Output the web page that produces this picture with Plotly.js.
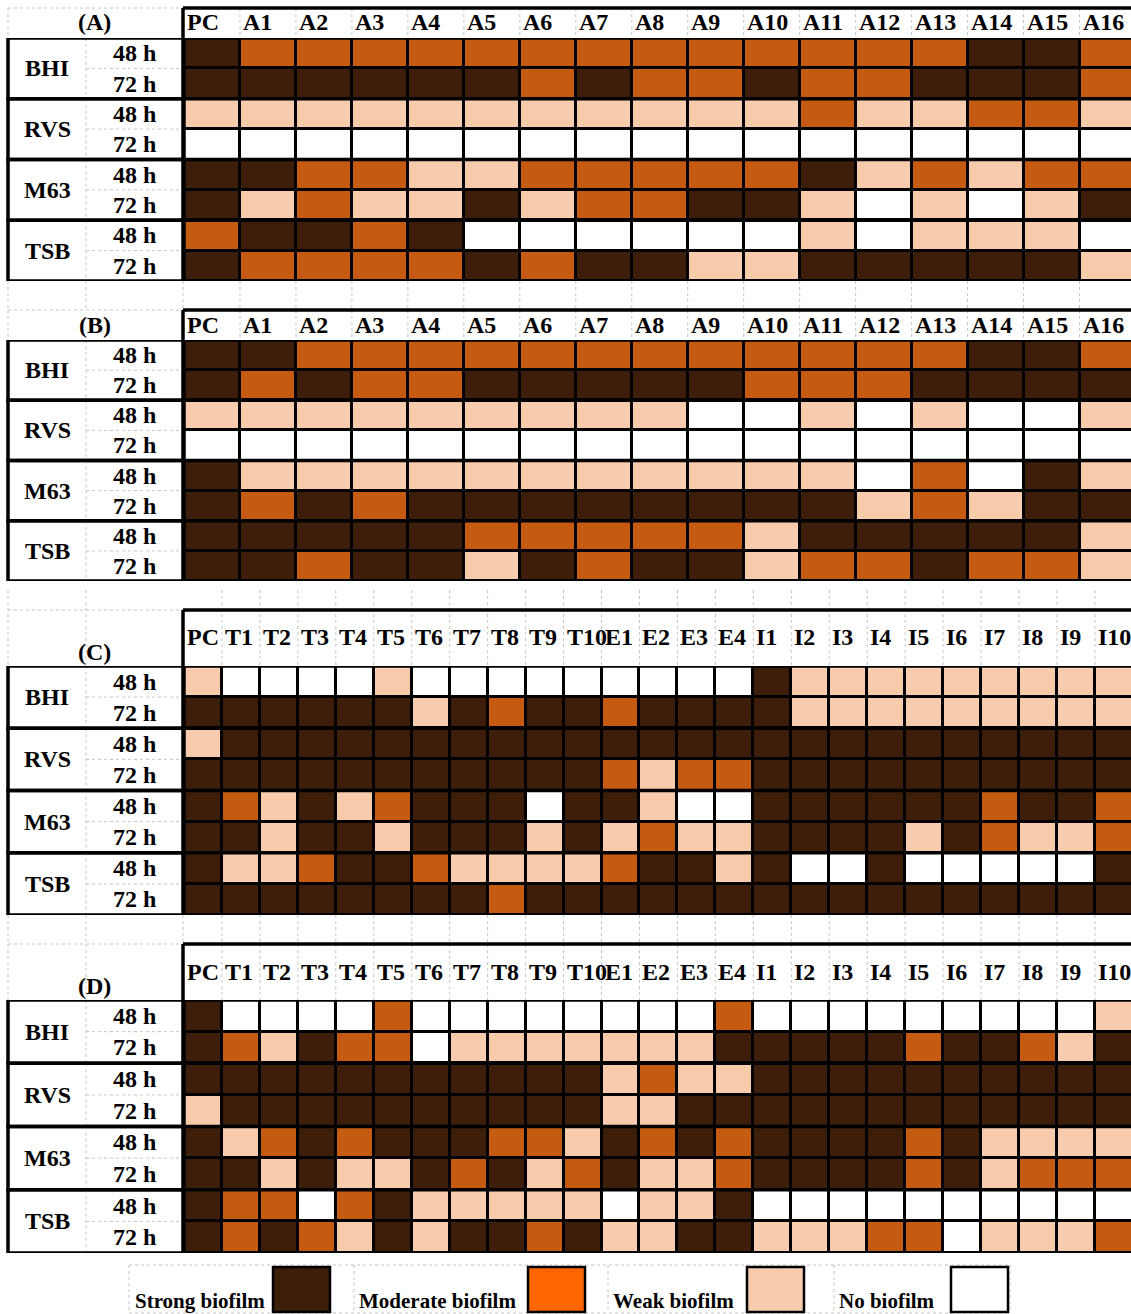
<!DOCTYPE html>
<html>
<head>
<meta charset="utf-8">
<script src="https://cdn.plot.ly/plotly-3.0.1.min.js"></script>
<style>
  html, body { margin: 0; padding: 0; background: #ffffff; }
  #chart { width: 1131px; height: 1314px; }
</style>
</head>
<body>
<div id="chart"></div>
<script>
// ---------------- DATA ----------------
// Level codes: 3 = Strong biofilm, 2 = Moderate biofilm, 1 = Weak biofilm, 0 = No biofilm
const colsAB = ['PC','A1','A2','A3','A4','A5','A6','A7','A8','A9','A10','A11','A12','A13','A14','A15','A16'];
const colsCD = ['PC','T1','T2','T3','T4','T5','T6','T7','T8','T9','T10','E1','E2','E3','E4',
                'I1','I2','I3','I4','I5','I6','I7','I8','I9','I10'];
const media = ['BHI','RVS','M63','TSB'];
const times = ['48 h','72 h'];
const panelLetters = ['(A)','(B)','(C)','(D)'];

// rows: BHI 48, BHI 72, RVS 48, RVS 72, M63 48, M63 72, TSB 48, TSB 72
const panelA = [
  [3,2,2,2,2,2,2,2,2,2,2,2,2,2,3,3,2],
  [3,3,3,3,3,3,2,3,2,2,3,2,2,3,3,3,2],
  [1,1,1,1,1,1,1,1,1,1,1,2,1,1,2,2,1],
  [0,0,0,0,0,0,0,0,0,0,0,0,0,0,0,0,0],
  [3,3,2,2,1,1,2,2,2,2,2,3,1,2,1,2,2],
  [3,1,2,1,1,3,1,2,2,3,3,1,0,1,0,1,3],
  [2,3,3,2,3,0,0,0,0,0,0,1,0,1,1,1,0],
  [3,2,2,2,2,3,2,3,3,1,1,3,3,3,3,3,1]
];
const panelB = [
  [3,3,2,2,2,2,2,2,2,2,2,2,2,2,3,3,2],
  [3,2,3,2,2,3,3,3,3,3,2,2,2,3,3,3,3],
  [1,1,1,1,1,1,1,1,1,0,0,1,0,1,0,0,1],
  [0,0,0,0,0,0,0,0,0,0,0,0,0,0,0,0,0],
  [3,1,1,1,1,1,1,1,1,1,1,1,0,2,0,3,1],
  [3,2,3,2,3,3,3,3,3,3,3,3,1,2,1,3,3],
  [3,3,3,3,3,2,2,2,2,2,1,3,3,3,3,3,1],
  [3,3,2,3,3,1,3,2,3,3,1,2,2,3,2,2,1]
];
const panelC = [
  [1, 0,0,0,0,1,0,0,0,0,0, 0,0,0,0, 3,1,1,1,1,1,1,1,1,1],
  [3, 3,3,3,3,3,1,3,2,3,3, 2,3,3,3, 3,1,1,1,1,1,1,1,1,1],
  [1, 3,3,3,3,3,3,3,3,3,3, 3,3,3,3, 3,3,3,3,3,3,3,3,3,3],
  [3, 3,3,3,3,3,3,3,3,3,3, 2,1,2,2, 3,3,3,3,3,3,3,3,3,3],
  [3, 2,1,3,1,2,3,3,3,0,3, 3,1,0,0, 3,3,3,3,3,3,2,3,3,2],
  [3, 3,1,3,3,1,3,3,3,1,3, 1,2,1,1, 3,3,3,3,1,3,2,1,1,2],
  [3, 1,1,2,3,3,2,1,1,1,1, 2,3,3,1, 3,0,0,3,0,0,0,0,0,3],
  [3, 3,3,3,3,3,3,3,2,3,3, 3,3,3,3, 3,3,3,3,3,3,3,3,3,3]
];
const panelD = [
  [3, 0,0,0,0,2,0,0,0,0,0, 0,0,0,2, 0,0,0,0,0,0,0,0,0,1],
  [3, 2,1,3,2,2,0,1,1,1,1, 1,1,1,3, 3,3,3,3,2,3,3,2,1,3],
  [3, 3,3,3,3,3,3,3,3,3,3, 1,2,1,1, 3,3,3,3,3,3,3,3,3,3],
  [1, 3,3,3,3,3,3,3,3,3,3, 1,1,3,3, 3,3,3,3,3,3,3,3,3,3],
  [3, 1,2,3,2,3,3,3,2,2,1, 3,2,3,2, 3,3,3,3,2,3,1,1,1,1],
  [3, 3,1,3,1,1,3,2,3,1,2, 3,1,1,2, 3,3,3,3,2,3,1,2,2,2],
  [3, 2,2,0,2,3,1,1,1,1,1, 0,1,1,3, 0,0,0,0,0,0,0,0,0,0],
  [3, 2,3,2,1,3,1,3,3,2,3, 1,1,3,3, 1,1,1,2,2,0,1,1,1,2]
];

const legendLabels = ['Strong biofilm','Moderate biofilm','Weak biofilm','No biofilm'];
const legendColors = ['#3C1E0A','#FF6600','#F8CBAD','#FFFFFF'];
const cellColors = ['#FFFFFF','#F8CBAD','#C55A11','#3C1E0A']; // index = level code

// ---------------- LAYOUT HELPERS ----------------
const W = 1131, H = 1314;
const px = v => v / W;
const py = v => 1 - v / H;
const FONT = 'Liberation Serif, Times New Roman, serif';
const GRID = '#c4c4c4';

const panels = [
  {z: panelA, cols: colsAB, hTop: 8,   dTop: 38,   dBot: 281,  labY: 22,  letY: 22,  xmax: 16.42, gapAbove: null, gapBelow: 310, sepX: false},
  {z: panelB, cols: colsAB, hTop: 310, dTop: 340,  dBot: 581,  labY: 325, letY: 325, xmax: 16.42, gapAbove: null, gapBelow: null, sepX: false},
  {z: panelC, cols: colsCD, hTop: 610, dTop: 666,  dBot: 915,  labY: 637, letY: 652, xmax: 24.45, gapAbove: 590, gapBelow: 944, sepX: true},
  {z: panelD, cols: colsCD, hTop: 944, dTop: 1000, dBot: 1253, labY: 972, letY: 986, xmax: 24.45, gapAbove: null, gapBelow: null, sepX: true}
];

const cs = [
  [0, cellColors[0]], [0.25, cellColors[0]],
  [0.25, cellColors[1]], [0.5, cellColors[1]],
  [0.5, cellColors[2]], [0.75, cellColors[2]],
  [0.75, cellColors[3]], [1, cellColors[3]]
];

const data = [];
const shapes = [];
const annotations = [];
const layout = {
  width: W, height: H,
  margin: {l: 0, r: 0, t: 0, b: 0},
  paper_bgcolor: '#ffffff',
  plot_bgcolor: '#000000',
  showlegend: false,
  font: {family: FONT, color: '#000000'},
  shapes: shapes,
  annotations: annotations
};

const dashLine = {color: GRID, width: 1, dash: '3px,3px'};
const blk = w => ({color: '#000000', width: w});

panels.forEach((p, k) => {
  const suf = k === 0 ? '' : String(k + 1);
  const xr = 'x' + suf, yr = 'y' + suf;
  const n = p.cols.length;
  const xIdx = p.cols.map((c, i) => i);
  const yIdx = p.z.map((r, i) => i);

  data.push({
    type: 'heatmap',
    x: xIdx, y: yIdx, z: p.z,
    xaxis: xr, yaxis: yr,
    colorscale: cs, zmin: -0.5, zmax: 3.5,
    showscale: false, xgap: 3, ygap: 3,
    hoverinfo: 'skip'
  });

  layout['xaxis' + suf] = {
    domain: [px(184), 1], range: [-0.5, p.xmax], anchor: yr,
    showgrid: false, zeroline: false, showline: false, showticklabels: false, ticks: '', fixedrange: true
  };
  layout['yaxis' + suf] = {
    domain: [py(p.dBot), py(p.dTop)], range: [7.5, -0.5], anchor: xr,
    showgrid: false, zeroline: false, showline: false, showticklabels: false, ticks: '', fixedrange: true
  };

  // dashed spreadsheet grid in header (column boundaries)
  for (let i = 1; i < n; i++) {
    const top = p.gapAbove !== null ? p.gapAbove : p.hTop;
    shapes.push({type: 'line', xref: xr, yref: 'paper', x0: i - 0.5, x1: i - 0.5, y0: py(top), y1: py(p.dTop), line: dashLine, layer: 'below'});
    if (p.gapBelow !== null) {
      shapes.push({type: 'line', xref: xr, yref: 'paper', x0: i - 0.5, x1: i - 0.5, y0: py(p.dBot), y1: py(p.gapBelow), line: dashLine, layer: 'below'});
    }
  }
  // dashed grid in label area header
  shapes.push({type: 'line', xref: 'paper', yref: 'paper', x0: px(8), x1: px(183), y0: py(p.hTop), y1: py(p.hTop), line: dashLine});
  const lTop = p.gapAbove !== null ? p.gapAbove : p.hTop;
  shapes.push({type: 'line', xref: 'paper', yref: 'paper', x0: px(8), x1: px(8), y0: py(lTop), y1: py(p.dTop), line: dashLine});
  if (p.sepX) {
    shapes.push({type: 'line', xref: 'paper', yref: 'paper', x0: px(86), x1: px(86), y0: py(lTop), y1: py(p.dTop), line: dashLine});
  }
  if (p.gapBelow !== null) {
    [8, 86, 183].forEach(xv => {
      shapes.push({type: 'line', xref: 'paper', yref: 'paper', x0: px(xv), x1: px(xv), y0: py(p.dBot), y1: py(p.gapBelow), line: dashLine});
    });
  }

  // label area: group boxes and inner dashed lines
  media.forEach((m, g) => {
    shapes.push({type: 'line', xref: 'paper', yref: yr, x0: px(86), x1: px(86), y0: 2 * g - 0.5, y1: 2 * g + 1.5, line: dashLine});
    shapes.push({type: 'line', xref: 'paper', yref: yr, x0: px(86), x1: px(183), y0: 2 * g + 0.5, y1: 2 * g + 0.5, line: dashLine});
    shapes.push({type: 'rect', xref: 'paper', yref: yr, x0: px(8), x1: px(183), y0: 2 * g - 0.5, y1: 2 * g + 1.5, line: blk(3.5)});
    annotations.push({xref: 'paper', yref: yr, x: px(47), y: 2 * g + 0.5, text: '<b>' + m + '</b>',
      showarrow: false, xanchor: 'center', yanchor: 'middle', font: {size: 24, family: FONT, color: '#000'}});
    times.forEach((t, j) => {
      annotations.push({xref: 'paper', yref: yr, x: px(134), y: 2 * g + j, text: '<b>' + t + '</b>',
        showarrow: false, xanchor: 'center', yanchor: 'middle', font: {size: 24, family: FONT, color: '#000'}});
    });
  });

  // group separators across data
  [1.5, 3.5, 5.5].forEach(yv => {
    shapes.push({type: 'line', xref: xr, yref: yr, x0: -0.5, x1: n - 0.5, y0: yv, y1: yv, line: blk(3.5)});
  });
  // data outline
  shapes.push({type: 'rect', xref: xr, yref: yr, x0: -0.5, x1: n - 0.5, y0: -0.5, y1: 7.5, line: blk(3.5)});
  // header border (top + left)
  shapes.push({type: 'line', xref: 'paper', yref: 'paper', x0: px(183), x1: 1, y0: py(p.hTop), y1: py(p.hTop), line: blk(3.5)});
  shapes.push({type: 'line', xref: 'paper', yref: 'paper', x0: px(183), x1: px(183), y0: py(p.hTop), y1: py(p.dTop), line: blk(3.5)});

  // column labels
  p.cols.forEach((c, i) => {
    annotations.push({xref: xr, yref: 'paper', x: i - 0.5, y: py(p.labY), xshift: 1, text: '<b>' + c + '</b>',
      showarrow: false, xanchor: 'left', yanchor: 'middle', font: {size: 24, family: FONT, color: '#000'}});
  });
  // panel letter
  annotations.push({xref: 'paper', yref: 'paper', x: px(95), y: py(p.letY), text: '<b>' + panelLetters[k] + '</b>',
    showarrow: false, xanchor: 'center', yanchor: 'middle', font: {size: 24, family: FONT, color: '#000'}});
});

// ---------------- LEGEND ----------------
const legCellX = [129, 354, 608, 834, 1010];
const legTextX = [133, 357, 611, 837];
const legBoxX = [273, 528, 747, 951];
const legBoxW = 57;
shapes.push({type: 'line', xref: 'paper', yref: 'paper', x0: px(legCellX[0]), x1: px(legCellX[4]), y0: py(1265), y1: py(1265), line: dashLine});
shapes.push({type: 'line', xref: 'paper', yref: 'paper', x0: px(legCellX[0]), x1: px(legCellX[4]), y0: py(1313), y1: py(1313), line: dashLine});
legCellX.forEach(xv => {
  shapes.push({type: 'line', xref: 'paper', yref: 'paper', x0: px(xv), x1: px(xv), y0: py(1265), y1: py(1313), line: dashLine});
});
legendLabels.forEach((lab, i) => {
  shapes.push({type: 'rect', xref: 'paper', yref: 'paper', x0: px(legBoxX[i]), x1: px(legBoxX[i] + legBoxW),
    y0: py(1312), y1: py(1267), fillcolor: legendColors[i], line: blk(2.5)});
  annotations.push({xref: 'paper', yref: 'paper', x: px(legTextX[i]), y: py(1301), text: '<b>' + lab + '</b>',
    showarrow: false, xanchor: 'left', yanchor: 'middle', font: {size: 21, family: FONT, color: '#000'}});
});

Plotly.newPlot('chart', data, layout, {staticPlot: true, displayModeBar: false});
</script>
</body>
</html>
